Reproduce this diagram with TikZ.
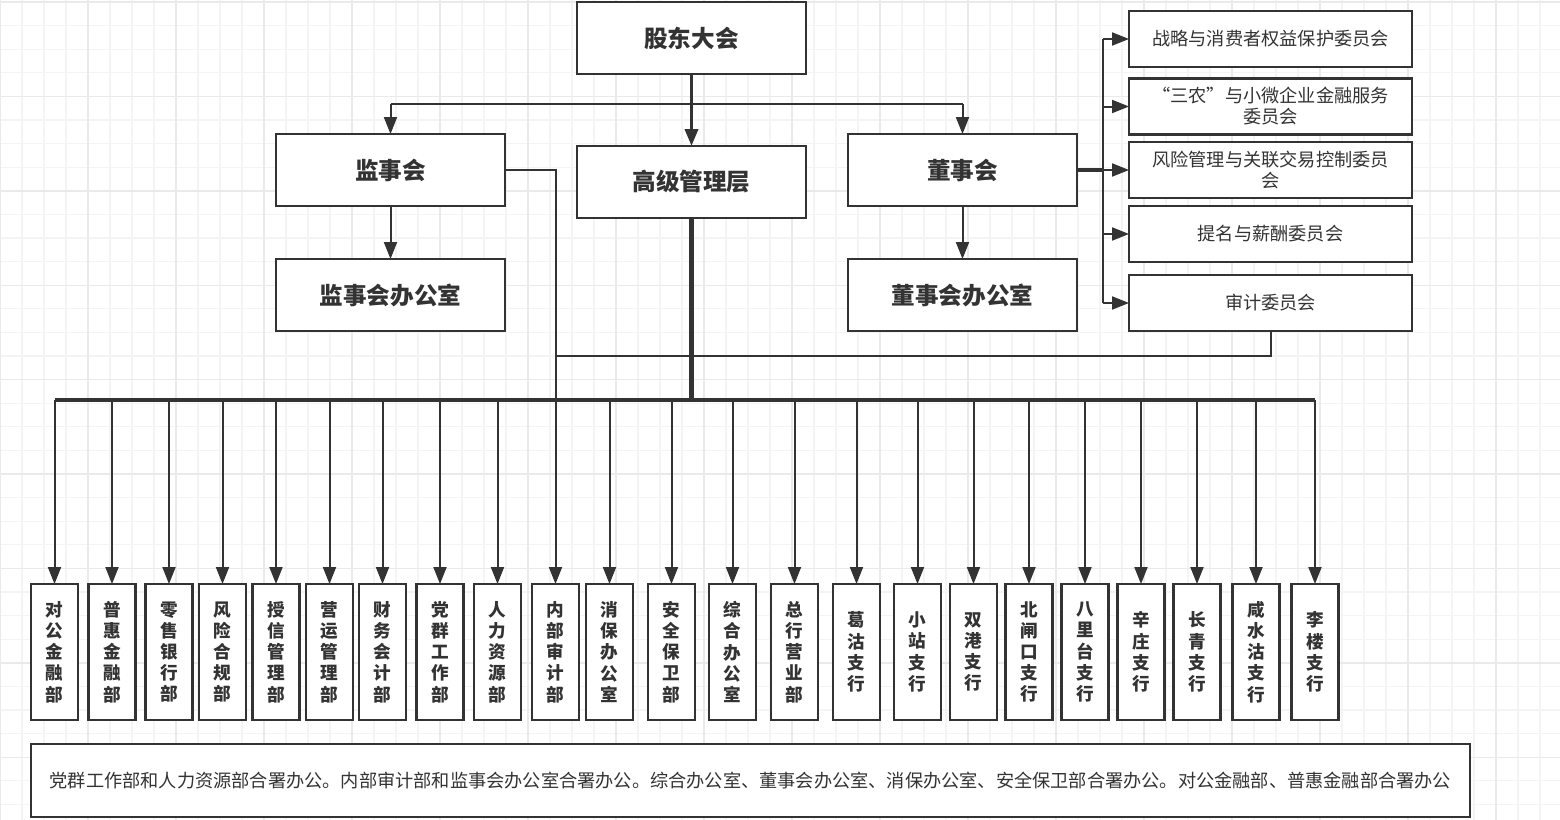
\documentclass[tikz,border=0pt]{standalone}
\usepackage{fontspec}
\newfontfamily\cjk{Noto Sans CJK SC}
\usetikzlibrary{arrows.meta}
\definecolor{ink}{HTML}{333333}
\definecolor{gmin}{HTML}{F4F4F4}
\definecolor{gmaj}{HTML}{EAEAEA}
\begin{document}
\begin{tikzpicture}[x=0.5pt,y=-0.5pt,
 box/.style={draw=ink, line width=1.2pt, fill=white, inner sep=0pt, outer sep=0pt, text=ink},
 title/.style={box, minimum width=114.5pt, minimum height=36pt, font=\cjk\bfseries\fontsize{11.8}{14}\selectfont},
 comm/.style={box, minimum width=141.5pt, minimum height=28pt, align=center, font=\cjk\fontsize{9.1}{10.5}\selectfont},
 dept/.style={box, minimum width=23.5pt, minimum height=68pt, align=center, font=\cjk\bfseries\fontsize{8.8}{10.6}\selectfont},
 note/.style={box, minimum width=719.5pt, minimum height=36.5pt, font=\cjk\fontsize{9.1}{11}\selectfont},
 conn/.style={draw=ink, line width=1pt},
 arr/.style={conn, -{Triangle[length=8.5pt,width=6.5pt]}},
 heavy/.style={draw=ink, line width=2pt},
 gridmin/.style={draw=gmin, line width=0.6pt},
 gridmaj/.style={draw=gmaj, line width=0.7pt},
]
\useasboundingbox (0,0) rectangle (1560,820);
\fill[white] (0,0) rectangle (1560,820);
% grid
\foreach \x in {0,22,...,1560} \draw[gridmin] (\x,0) -- (\x,820);
\foreach \y in {2,25.6,...,820} \draw[gridmin] (0,\y) -- (1560,\y);
\foreach \x in {0,88,...,1560} \draw[gridmaj] (\x,0) -- (\x,820);
\foreach \y in {2,96.4,...,820} \draw[gridmaj] (0,\y) -- (1560,\y);

% top boxes
\node[title] (gd) at (691.5,38) {股东大会};
\node[title] (js) at (390.5,170) {监事会};
\node[title] (gj) at (691.5,182) {高级管理层};
\node[title] (ds) at (962.5,170) {董事会};
\node[title] (jso) at (390.5,295) {监事会办公室};
\node[title] (dso) at (962.5,295) {董事会办公室};

% committees
\node[comm] (c1) at (1270.5,39) {战略与消费者权益保护委员会};
\node[comm] (c2) at (1270.5,106.5) {“三农”与小微企业金融服务\\委员会};
\node[comm] (c3) at (1270.5,170) {风险管理与关联交易控制委员\\会};
\node[comm] (c4) at (1270.5,234) {提名与薪酬委员会};
\node[comm] (c5) at (1270.5,303) {审计委员会};

% departments
\foreach \i/\x/\t in {
 1/54.5/{对\\公\\金\\融\\部},
 2/112/{普\\惠\\金\\融\\部},
 3/169/{零\\售\\银\\行\\部},
 4/222.5/{风\\险\\合\\规\\部},
 5/276/{授\\信\\管\\理\\部},
 6/329.5/{营\\运\\管\\理\\部},
 7/382.5/{财\\务\\会\\计\\部},
 8/440/{党\\群\\工\\作\\部},
 9/497.5/{人\\力\\资\\源\\部},
 10/555.5/{内\\部\\审\\计\\部},
 11/609.5/{消\\保\\办\\公\\室},
 12/671.5/{安\\全\\保\\卫\\部},
 13/732.5/{综\\合\\办\\公\\室},
 14/794.5/{总\\行\\营\\业\\部},
 15/856.5/{葛\\沽\\支\\行},
 16/917.5/{小\\站\\支\\行},
 17/973.5/{双\\港\\支\\行},
 18/1029/{北\\闸\\口\\支\\行},
 19/1085/{八\\里\\台\\支\\行},
 20/1141/{辛\\庄\\支\\行},
 21/1197/{长\\青\\支\\行},
 22/1256/{咸\\水\\沽\\支\\行},
 23/1315/{李\\楼\\支\\行}}
 \node[dept] (b\i) at (\x,652) {\t};

% note
\node[note] (nt) at (750.5,780.5) {党群工作部和人力资源部合署办公。内部审计部和监事会办公室合署办公。综合办公室、董事会办公室、消保办公室、安全保卫部合署办公。对公金融部、普惠金融部合署办公};

% helper coordinates
\coordinate (h) at (691.5,104);
\coordinate (cb) at (1103,170);
\coordinate (bus) at (691.5,400);
\coordinate (ay) at (555.5,356);

% connectors
\draw[conn] (js.north |- h) -- (ds.north |- h);
\draw[arr, line width=1.8pt] (gd.south) -- (gj.north);
\draw[arr] (js.north |- h) -- (js.north);
\draw[arr] (ds.north |- h) -- (ds.north);
\draw[arr] (js.south) -- (jso.north);
\draw[arr] (ds.south) -- (dso.north);

\draw[heavy] (ds.east) -- (cb);
\draw[conn] (cb |- c1.west) -- (cb |- c5.west);
\foreach \c in {c1,c2,c3,c4,c5} \draw[arr] (cb |- \c.west) -- (\c.west);

\draw[draw=ink, line width=2.2pt] (gj.south) -- (bus);
\draw[draw=ink, line width=1.7pt] (b1.north |- bus) -- (b23.north |- bus);
\foreach \i in {1,...,23} \draw[arr] (b\i.north |- bus) -- (b\i.north);

\draw[conn] (js.east) -| (b10.north |- bus);
\draw[conn] (c5.south) |- (ay);
\end{tikzpicture}
\end{document}
